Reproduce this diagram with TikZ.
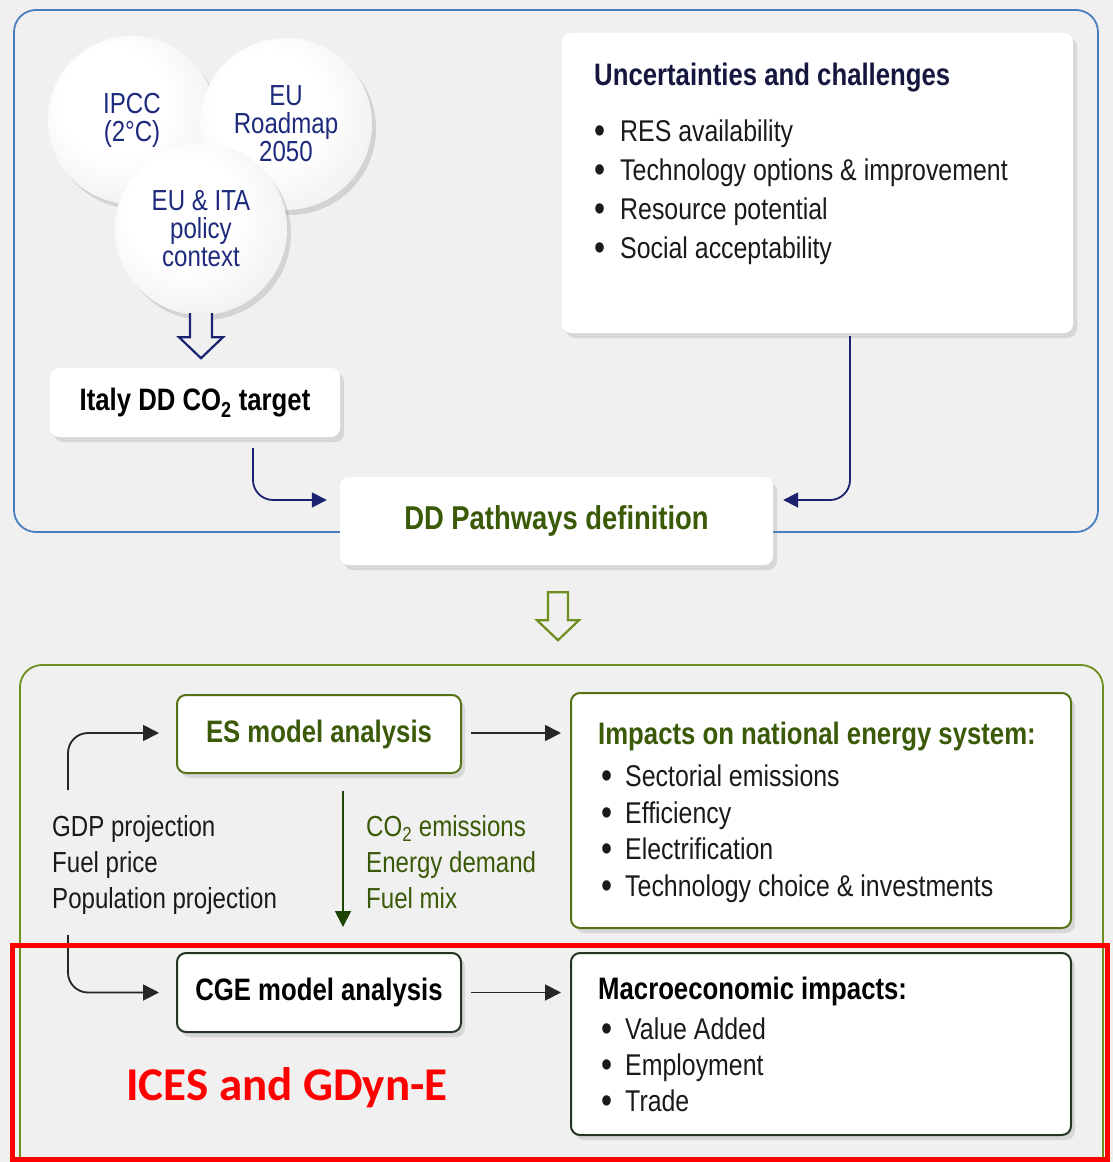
\documentclass[tikz,border=0pt]{standalone}
\usepackage{fontspec}
\setmainfont[FakeStretch=0.83]{Liberation Sans}
\newfontfamily\calibrifont{Carlito}
\usetikzlibrary{arrows.meta, shadows, calc, positioning}

\definecolor{bggray}{HTML}{F0F0F0}
\definecolor{frameblue}{HTML}{4A7DC0}
\definecolor{framegreen}{HTML}{6E8E1E}
\definecolor{navytext}{HTML}{1E2A7C}
\definecolor{navyline}{HTML}{1B2370}
\definecolor{titlenavy}{HTML}{15173F}
\definecolor{greentext}{HTML}{3A5A08}
\definecolor{boxgreen}{HTML}{557315}
\definecolor{boxdark}{HTML}{253525}
\definecolor{arrowgreen}{HTML}{1F4505}
\definecolor{listcol}{HTML}{1A1A1A}

\pgfdeclareverticalshading{boxshade}{100bp}{color(0bp)=(black!10); color(14bp)=(white); color(100bp)=(white)}
\pgfdeclareradialshading{discshade}{\pgfpoint{-8bp}{8bp}}{color(0bp)=(white); color(16bp)=(white); color(32bp)=(black!6); color(50bp)=(black!22)}

\newcommand{\bul}[1]{\makebox[#1][l]{\raisebox{-2pt}{\fontsize{38}{38}\selectfont\textbullet}}}

\tikzset{
  panel/.style={line width=1.8pt, rounded corners=22pt},
  disc/.style={circle, shade, shading=discshade, minimum size=#1, inner sep=0pt, align=center,
    text=navytext, font=\fontsize{29}{28}\selectfont,
    drop shadow={opacity=0.25, shadow xshift=4pt, shadow yshift=-5pt}},
  card/.style={rectangle, rounded corners=9pt, shade, shading=boxshade, inner sep=0pt,
    drop shadow={opacity=0.22, shadow xshift=4pt, shadow yshift=-5pt}},
  greencard/.style={card, draw=boxgreen, line width=2pt},
  darkcard/.style={card, draw=boxdark, line width=2pt},
  boldtext/.style={font=\bfseries\fontsize{31}{31}\selectfont},
  headtext/.style={anchor=north west, inner sep=0pt, boldtext},
  listtext/.style={anchor=north west, inner sep=0pt, align=left, text=listcol, font=\fontsize{30}{#1}\selectfont},
  sidetext/.style={anchor=north west, inner sep=0pt, align=left, font=\fontsize{29}{36}\selectfont},
  hollowblue/.style={draw=navyline, line width=2.2pt, fill=bggray},
  hollowgreen/.style={draw=framegreen, line width=2.2pt, fill=bggray},
  navyarrow/.style={draw=navyline, line width=1.8pt, rounded corners=20pt, -{Triangle[length=15pt,width=15pt]}},
  blackarrow/.style={draw=black!85, line width=1.8pt, rounded corners=20pt, -{Triangle[length=16pt,width=16pt]}},
  greenarrow/.style={draw=arrowgreen, line width=1.8pt, -{Triangle[length=16pt,width=16pt]}},
}

\begin{document}
\begin{tikzpicture}[x=1pt, y=-1pt]
\useasboundingbox (0,0) rectangle (1113,1162);
\fill[bggray] (0,0) rectangle (1113,1162);

% scenario definition
\draw[panel, draw=frameblue] (14,10) rectangle (1098,532);

\node[disc=168pt] (ipcc) at (132,120) {IPCC\\(2°C)};
\node[disc=172pt] (roadmap) at (286,124) {EU\\Roadmap\\2050};
\node[disc=172pt] (policy) at (201,229) {EU \& ITA\\policy\\context};

\draw[hollowblue] ($(policy.south)+(-11,-2)$) -- ++(0,24) -- ++(-11,0) -- ++(22,21) -- ++(22,-21) -- ++(-11,0) -- ++(0,-24);

\node[card, minimum width=290pt, minimum height=69pt, boldtext, text=black] (italy) at (195,402.5) {Italy DD CO\textsubscript{2} target};

\node[card, minimum width=511pt, minimum height=300pt] (unc) at (817.5,183) {};
\node[headtext, text=titlenavy] (unctitle) at (594,63) {Uncertainties and challenges};
\node[listtext=39pt] (unclist) at (594,120) {\bul{26pt}RES availability\\ \bul{26pt}Technology options \& improvement\\ \bul{26pt}Resource potential\\ \bul{26pt}Social acceptability};

\node[card, minimum width=433pt, minimum height=88pt, font=\bfseries\fontsize{33}{33}\selectfont, text=greentext] (dd) at (556.5,521) {DD Pathways definition};

\draw[navyarrow] ($(italy.south)+(58,11)$) |- ($(dd.west)+(-13,-21)$);
\draw[navyarrow] ($(unc.south)+(32.5,3)$) |- ($(dd.east)+(10,-21)$);

\draw[hollowgreen] ($(dd.south)+(-8.5,27)$) -- ++(0,28) -- ++(-11,0) -- ++(21,20) -- ++(21,-20) -- ++(-11,0) -- ++(0,-28) -- cycle;

% model chain
\draw[panel, draw=framegreen] (20,665) rectangle (1103,1195);

\node[greencard, minimum width=284pt, minimum height=78pt, boldtext, text=greentext] (es) at (319,734) {ES model analysis};
\node[greencard, minimum width=500pt, minimum height=235pt] (imp) at (821,810.5) {};
\node[headtext, text=greentext] (imptitle) at (598,722) {Impacts on national energy system:};
\node[listtext=36.5pt] (implist) at (601,765) {\bul{24pt}Sectorial emissions\\ \bul{24pt}Efficiency\\ \bul{24pt}Electrification\\ \bul{24pt}Technology choice \& investments};

\node[darkcard, minimum width=284pt, minimum height=79pt, boldtext, text=black] (cge) at (319,992.5) {CGE model analysis};
\node[darkcard, minimum width=500pt, minimum height=182pt] (mac) at (821,1044) {};
\node[headtext, text=black] (mactitle) at (598,977) {Macroeconomic impacts:};
\node[listtext=36pt] (maclist) at (601,1018) {\bul{24pt}Value Added\\ \bul{24pt}Employment\\ \bul{24pt}Trade};

\node[sidetext, text=listcol] (drivers) at (52,815) {GDP projection\\Fuel price\\Population projection};
\node[sidetext, text=greentext] (outputs) at (366,815) {CO\textsubscript{2} emissions\\Energy demand\\Fuel mix};

\coordinate (projup) at (68,790);
\coordinate (projdown) at (68,935);
\draw[blackarrow] (projup) |- ($(es.west)+(-17,-1)$);
\draw[blackarrow] (projdown) |- ($(cge.west)+(-17,0)$);
\draw[blackarrow] ($(es.east)+(9,-1)$) -- ($(es.east -| imp.west)+(-9,-1)$);
\draw[blackarrow] ($(cge.east)+(9,0)$) -- ($(cge.east -| mac.west)+(-9,0)$);
\draw[greenarrow] ($(es.south)+(24,17)$) -- ($(cge.north)+(24,-25)$);

% highlight
\draw[red, line width=5pt] (12,945) rectangle (1107,1159);
\node[text=red, font=\calibrifont\bfseries\fontsize{47}{47}\selectfont] (ices) at (287,1088) {ICES and GDyn-E};
\end{tikzpicture}
\end{document}
